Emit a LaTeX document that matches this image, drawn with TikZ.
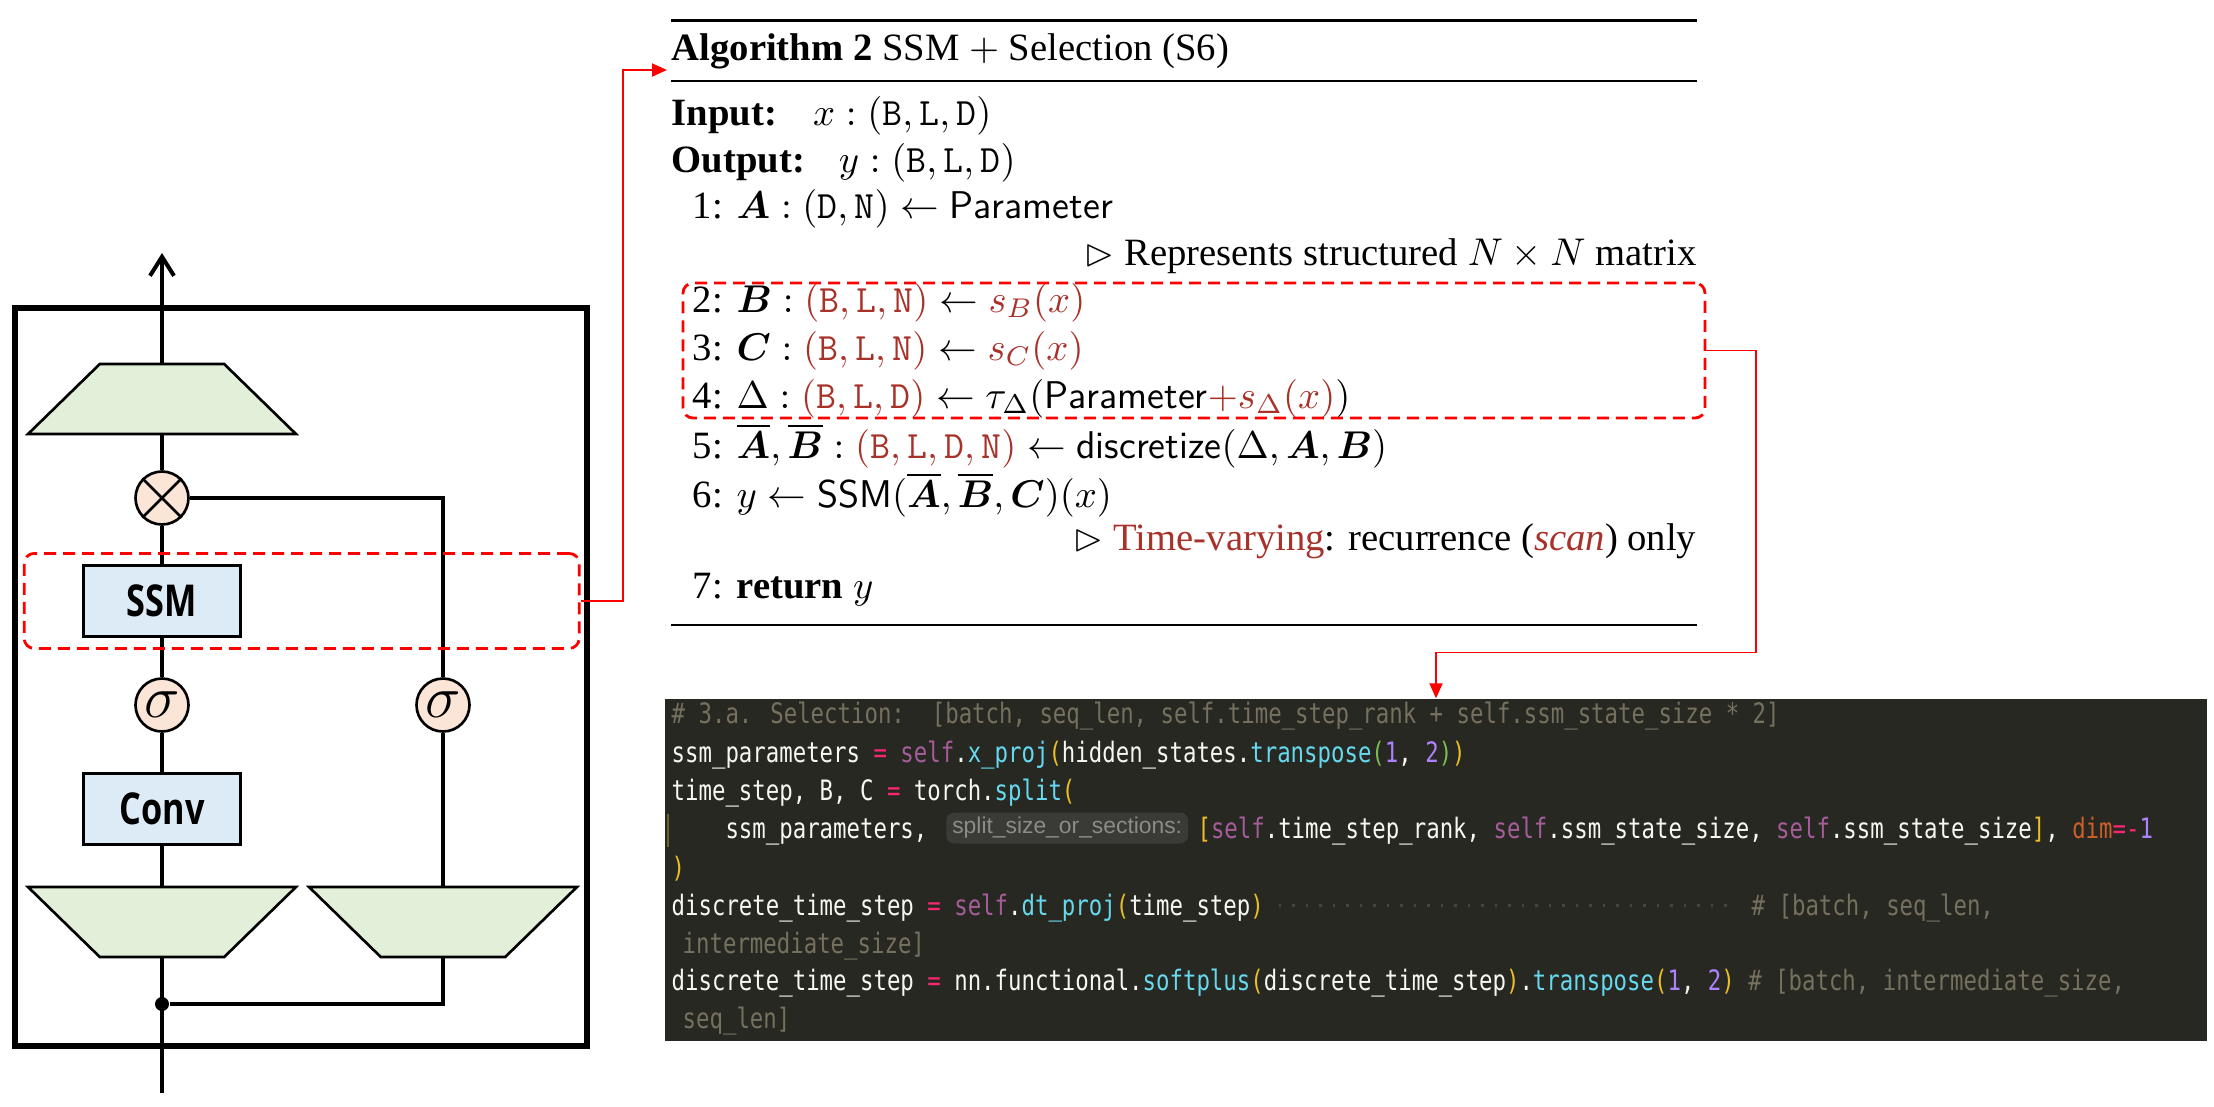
\RequirePackage{fix-cm}
\documentclass[tikz,border=0pt]{standalone}
\usepackage{amsmath,amssymb}
\usepackage{fontspec}
\setmainfont{Liberation Serif}
\newfontfamily\blkfont[FakeStretch=0.78]{Open Sans}
\newfontfamily\codefont[FakeStretch=0.795]{DejaVu Sans Mono}
\newfontfamily\hintfont{Liberation Sans}
\usepackage{xcolor}
\usetikzlibrary{positioning,arrows.meta,shapes.geometric}
\definecolor{projgreen}{RGB}{226,239,217}
\definecolor{blkblue}{RGB}{221,235,247}
\definecolor{opfill}{RGB}{251,229,214}
\definecolor{algred}{RGB}{168,50,42}
\definecolor{cbg}{RGB}{39,40,34}
\definecolor{cfg}{RGB}{248,248,242}
\definecolor{ccom}{RGB}{117,113,94}
\definecolor{cselfc}{RGB}{165,93,153}
\definecolor{cfunc}{RGB}{102,217,239}
\definecolor{copc}{RGB}{249,38,114}
\definecolor{cnumc}{RGB}{174,129,255}
\definecolor{cbra}{RGB}{235,190,40}
\definecolor{cbrb}{RGB}{120,190,80}
\definecolor{cparc}{RGB}{204,95,40}
\definecolor{chintbg}{RGB}{58,58,54}
\definecolor{chintfg}{RGB}{140,140,135}
\definecolor{cguide}{RGB}{110,95,45}
\definecolor{cdots}{RGB}{70,70,62}
\tikzset{
  trap/.style   = {trapezium, trapezium stretches=true, draw, line width=0.75pt, fill=projgreen, minimum width=26.8mm, minimum height=7mm, inner sep=2pt},
  blk/.style    = {draw, line width=0.75pt, fill=blkblue, minimum width=15.7mm, minimum height=7.1mm, font=\blkfont\bfseries\fontsize{12.5}{13}\selectfont},
  op/.style     = {circle, draw, line width=0.75pt, fill=opfill, minimum size=5.3mm, inner sep=0pt},
  wire/.style   = {line width=1.15pt},
  hilite/.style = {draw=red, line width=0.8pt, dash pattern=on 1.2mm off 0.7mm, rounded corners=1mm, inner sep=0pt},
  link/.style   = {red, line width=0.55pt, -{Triangle[length=1.5mm, width=1.3mm]}},
  alg/.style    = {anchor=base west, inner sep=0pt, font=\fontsize{11}{13.2}\selectfont},
  algc/.style   = {alg, anchor=base east},
  codeln/.style = {anchor=base west, inner sep=0pt, text=cfg, text height=2.8mm, text depth=0.8mm, font=\codefont\fontsize{8}{9.6}\selectfont},
  hint/.style   = {fill=chintbg, rounded corners=0.8mm, text=chintfg, font=\hintfont\fontsize{6.5}{7}\selectfont, inner xsep=0.6mm, inner ysep=0pt, minimum height=3.1mm},
  lead/.style   = {cdots, line width=0.3mm, dash pattern=on 0.25mm off 1.1mm},
}
\newcommand{\algno}[1]{\makebox[4.4mm][l]{#1}}
\newcommand{\cself}[1]{\textcolor{cselfc}{#1}}
\newcommand{\cfun}[1]{\textcolor{cfunc}{#1}}
\newcommand{\cop}[1]{\textcolor{copc}{#1}}
\newcommand{\cnum}[1]{\textcolor{cnumc}{#1}}
\newcommand{\cpa}[1]{\textcolor{cbra}{#1}}
\newcommand{\cpb}[1]{\textcolor{cbrb}{#1}}
\newcommand{\ccm}[1]{\textcolor{ccom}{#1}}
\newcommand{\sigmark}{\fontsize{17}{17}\selectfont$\sigma$}

\begin{document}
\begin{tikzpicture}[x=0.1mm, y=-0.1mm]
  \useasboundingbox (0,0) rectangle (2214,1106);

  % mamba block
  \draw[line width=1.5pt] (15,308) rectangle (587,1046);
  \node[trap] (outproj) at (162,399) {};
  \node[op] (mult) at (162,498) {};
  \node[blk] (ssm) at (162,601) {SSM};
  \node[op] (sig1) at (162,705) {\sigmark};
  \node[blk] (conv) at (162,809) {Conv};
  \node[trap, shape border rotate=180] (inproj1) at (162,922) {};
  \node[trap, shape border rotate=180] (inproj2) at (443,922) {};
  \node[op] (sig2) at (443,705) {\sigmark};
  \node[circle, fill, inner sep=0pt, minimum size=1.4mm] (split) at (162,1004) {};
  \coordinate (xin) at (162,1093);
  \coordinate (yout) at (162,253);
  \draw[line width=0.75pt] (mult.north west) -- (mult.south east) (mult.north east) -- (mult.south west);

  \draw[wire] (xin) -- (inproj1.south);
  \draw[wire] (inproj1.north) -- (conv);
  \draw[wire] (conv) -- (sig1);
  \draw[wire] (sig1) -- (ssm);
  \draw[wire] (ssm) -- (mult);
  \draw[wire] (mult) -- (outproj);
  \draw[wire, -{Straight Barb[length=1.9mm, width=2.4mm]}] (outproj.north) -- (yout);
  \draw[wire] (split) -| (inproj2.south);
  \draw[wire] (inproj2.north) -- (sig2);
  \draw[wire] (sig2) |- (mult);

  \node[hilite, minimum width=55.5mm, minimum height=9.5mm] (ssmhl) at (301.7,600.9) {};

  % algorithm
  \draw[line width=0.9pt] (671,20.7) -- (1697,20.7);
  \node[alg] (title) at (671,60) {\textbf{Algorithm 2} SSM $+$ Selection (S6)};
  \draw[line width=0.5pt] (671,80.7) -- (1697,80.7);
  \coordinate (algin) at (667,70);
  \node[alg] (inp) at (671,125) {\textbf{Input:}\hspace{3.6mm}$x : (\mathtt{B}, \mathtt{L}, \mathtt{D})$};
  \node[alg] (outp) at (671,172) {\textbf{Output:}\hspace{3.4mm}$y : (\mathtt{B}, \mathtt{L}, \mathtt{D})$};
  \node[alg] (l1) at (692,218) {\algno{1:}$\boldsymbol{A} : (\mathtt{D}, \mathtt{N}) \leftarrow \mathsf{Parameter}$};
  \node[algc] (cm1) at (1697,265) {$\rhd$ Represents structured $N \times N$ matrix};
  \node[alg] (l2) at (692,312) {\algno{2:}$\boldsymbol{B} : {\color{algred}(\mathtt{B}, \mathtt{L}, \mathtt{N})} \leftarrow {\color{algred}s_B(x)}$};
  \node[alg] (l3) at (692,360) {\algno{3:}$\boldsymbol{C} : {\color{algred}(\mathtt{B}, \mathtt{L}, \mathtt{N})} \leftarrow {\color{algred}s_C(x)}$};
  \node[alg] (l4) at (692,408) {\algno{4:}$\Delta : {\color{algred}(\mathtt{B}, \mathtt{L}, \mathtt{D})} \leftarrow \tau_\Delta(\mathsf{Parameter}{\color{algred}+s_\Delta(x)})$};
  \node[alg] (l5) at (692,458) {\algno{5:}$\overline{\boldsymbol{A}}, \overline{\boldsymbol{B}} : {\color{algred}(\mathtt{B}, \mathtt{L}, \mathtt{D}, \mathtt{N})} \leftarrow \mathsf{discretize}(\Delta, \boldsymbol{A}, \boldsymbol{B})$};
  \node[alg] (l6) at (692,507) {\algno{6:}$y \leftarrow \mathsf{SSM}(\overline{\boldsymbol{A}}, \overline{\boldsymbol{B}}, \boldsymbol{C})(x)$};
  \node[algc] (cm2) at (1697,550) {$\rhd$ \textcolor{algred}{Time-varying}: recurrence (\textcolor{algred}{\textit{scan}}) only};
  \node[alg] (l7) at (692,598) {\algno{7:}\textbf{return} $y$};
  \draw[line width=0.5pt] (671,625) -- (1697,625);
  \node[hilite, minimum width=102.2mm, minimum height=13.5mm] (selhl) at (1194,350.5) {};

  % code
  \node[fill=cbg, inner sep=0pt, minimum width=154.2mm, minimum height=34.2mm] (codebg) at (1436,870) {};
  \node[codeln] (c1) at (671,723) {\ccm{\# 3.a. Selection:\ \ [batch, seq\_len, self.time\_step\_rank + self.ssm\_state\_size * 2]}};
  \node[codeln] (c2) at (671,762) {ssm\_parameters \cop{=} \cself{self}.\cfun{x\_proj}\cpa{(}hidden\_states.\cfun{transpose}\cpb{(}\cnum{1}, \cnum{2}\cpb{)}\cpa{)}};
  \node[codeln] (c3) at (671,800) {time\_step, B, C \cop{=} torch.\cfun{split}\cpa{(}};
  \draw[cguide, line width=0.3pt] (668,814) -- (668,847);
  \node[codeln] (c4a) at (671,838) {\hphantom{0000}ssm\_parameters,};
  \node[hint, right=1.75mm of c4a] (hintbox) {split\_size\_or\_sections:};
  \node[codeln, anchor=west, right=0.8mm of hintbox] (c4b) {\cpa{[}\cself{self}.time\_step\_rank, \cself{self}.ssm\_state\_size, \cself{self}.ssm\_state\_size\cpa{]}, \textcolor{cparc}{dim}\cop{=-}\cnum{1}};
  \node[codeln] (c5) at (671,877) {\cpa{)}};
  \node[codeln] (c6a) at (671,915) {discrete\_time\_step \cop{=} \cself{self}.\cfun{dt\_proj}\cpa{(}time\_step\cpa{)}};
  \node[codeln] (c6b) at (1751,915) {\ccm{\# [batch, seq\_len,}};
  \draw[lead, shorten <=1.4mm, shorten >=1.4mm] (c6a.east) -- (c6b.west);
  \node[codeln] (c7) at (682,953) {\ccm{intermediate\_size]}};
  \node[codeln] (c8) at (671,990) {discrete\_time\_step \cop{=} nn.functional.\cfun{softplus}\cpa{(}discrete\_time\_step\cpa{)}.\cfun{transpose}\cpa{(}\cnum{1}, \cnum{2}\cpa{)} \ccm{\# [batch, intermediate\_size,}};
  \node[codeln] (c9) at (682,1028) {\ccm{seq\_len]}};

  % links
  \draw[link] (ssmhl.east) -- ++(42,0) |- (algin);
  \draw[link] (selhl.east) -- ++(50,0) -- ++(0,302) -| (codebg.north);
\end{tikzpicture}
\end{document}
